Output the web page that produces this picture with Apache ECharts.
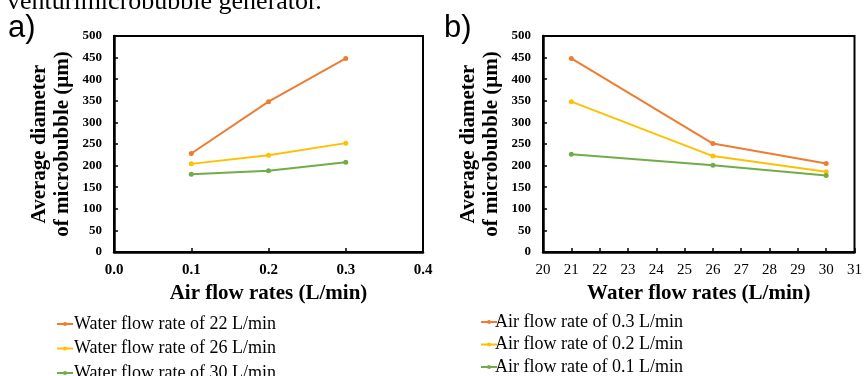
<!DOCTYPE html>
<html>
<head>
<meta charset="utf-8">
<script src="https://cdn.jsdelivr.net/npm/echarts@6/dist/echarts.min.js"></script>
<style>html,body{margin:0;padding:0;background:#fff;}#c{width:865px;height:376px;}</style>
</head>
<body>
<div id="c"></div>
<script>
// Panel a) average diameter vs air flow rate
var airRates = [0.1, 0.2, 0.3];
var water22 = [228, 348, 448];
var water26 = [204, 224, 252];
var water30 = [180, 188, 208];
var legendA = ['Water flow rate of 22 L/min', 'Water flow rate of 26 L/min', 'Water flow rate of 30 L/min'];
// Panel b) average diameter vs water flow rate
var waterRates = [21, 26, 30];
var air03 = [448, 251, 205];
var air02 = [348, 222, 186];
var air01 = [226, 201, 177];
var legendB = ['Air flow rate of 0.3 L/min', 'Air flow rate of 0.2 L/min', 'Air flow rate of 0.1 L/min'];
var yTitle = 'Average diameter\nof microbubble (\u03bcm)';

var colors = ['#ED7D31', '#FFC000', '#70AD47'];
var serif = '"Liberation Serif", "Times New Roman", serif';

function pairs(xs, ys) { return xs.map(function (x, i) { return [x, ys[i]]; }); }

function yAxisCfg(gi) {
  return {
    type: 'value', gridIndex: gi, min: 0, max: 500, interval: 50,
    name: yTitle, nameLocation: 'middle', nameRotate: 90, nameGap: 40,
    nameTextStyle: { fontFamily: serif, fontWeight: 'bold', fontSize: 21, color: '#000', lineHeight: 23 },
    axisLine: { show: true, lineStyle: { color: '#000', width: 2.5 } },
    axisTick: { show: true, inside: true, length: 4, lineStyle: { color: '#000', width: 1.5 } },
    axisLabel: { fontFamily: serif, fontWeight: 'bold', fontSize: 13, color: '#000', margin: 12 },
    splitLine: { show: false }
  };
}
function xAxisCfg(gi, min, max, interval, name, bold, fmt) {
  return {
    type: 'value', gridIndex: gi, min: min, max: max, interval: interval,
    name: name, nameLocation: 'middle', nameGap: 31,
    nameTextStyle: { fontFamily: serif, fontWeight: 'bold', fontSize: 21, color: '#000' },
    axisLine: { show: true, lineStyle: { color: '#000', width: 2.5 } },
    axisTick: { show: true, inside: true, length: 4, lineStyle: { color: '#000', width: 1.5 } },
    axisLabel: { fontFamily: serif, fontWeight: bold ? 'bold' : 'normal', fontSize: 15, color: '#000', margin: 11, formatter: fmt },
    splitLine: { show: false }
  };
}
function lineSeries(name, data, color, xi, yi) {
  return {
    type: 'line', name: name, data: data, xAxisIndex: xi, yAxisIndex: yi,
    symbol: 'circle', symbolSize: 5, showSymbol: true,
    lineStyle: { color: color, width: 2 }, itemStyle: { color: color },
    animation: false
  };
}
function legendCfg(names, left, top, gap, pad) {
  return {
    data: names, orient: 'vertical', left: left, top: top, height: 120, itemGap: gap,
    itemWidth: 16, itemHeight: 5, padding: 0,
    textStyle: { fontFamily: serif, fontSize: 18, color: '#000', padding: [0, 0, 0, pad] }
  };
}

var chart = echarts.init(document.getElementById('c'), null, { renderer: 'canvas' });
chart.setOption({
  animation: false,
  backgroundColor: '#fff',
  grid: [
    { left: 114, top: 36, width: 309, height: 216, show: true, borderColor: '#000', borderWidth: 2 },
    { left: 543, top: 36, width: 315, height: 216, show: true, borderColor: '#000', borderWidth: 2 }
  ],
  xAxis: [
    xAxisCfg(0, 0, 0.4, 0.1, 'Air flow rates (L/min)', true, function (v) { return v.toFixed(1); }),
    xAxisCfg(1, 20, 31, 1, 'Water flow rates (L/min)', false, function (v) { return String(v); })
  ],
  yAxis: [yAxisCfg(0), yAxisCfg(1)],
  legend: [legendCfg(legendA, 56, 315, 6.5, -4), legendCfg(legendB, 480, 313, 4.5, -7)],
  series: [
    lineSeries(legendA[0], pairs(airRates, water22), colors[0], 0, 0),
    lineSeries(legendA[1], pairs(airRates, water26), colors[1], 0, 0),
    lineSeries(legendA[2], pairs(airRates, water30), colors[2], 0, 0),
    lineSeries(legendB[0], pairs(waterRates, air03), colors[0], 1, 1),
    lineSeries(legendB[1], pairs(waterRates, air02), colors[1], 1, 1),
    lineSeries(legendB[2], pairs(waterRates, air01), colors[2], 1, 1)
  ],
  graphic: [
    { type: 'text', left: 7, top: -11, style: { text: 'venturimicrobubble generator.', font: '26px ' + serif, fill: '#000' } },
    { type: 'text', left: 8, top: 13, style: { text: 'a)', font: '31px "Liberation Sans", Arial, sans-serif', fill: '#000' } },
    { type: 'text', left: 444, top: 13, style: { text: 'b)', font: '31px "Liberation Sans", Arial, sans-serif', fill: '#000' } }
  ]
});
</script>
</body>
</html>
